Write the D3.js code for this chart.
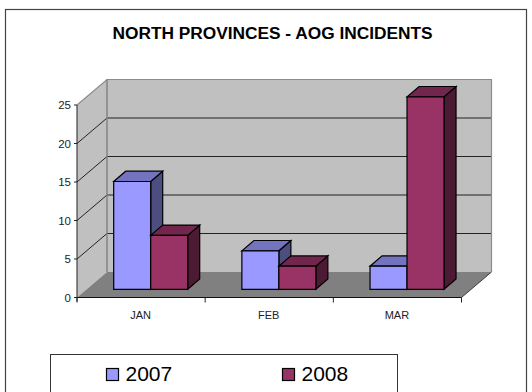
<!DOCTYPE html>
<html><head><meta charset="utf-8">
<script src="https://cdn.jsdelivr.net/npm/d3@7"></script>
<style>html,body{margin:0;padding:0;background:#fff;overflow:hidden}svg{display:block}text{font-family:"Liberation Sans",Arial,sans-serif}</style>
</head><body><svg id="c" width="532" height="392"></svg>
<script>
const categories = ["JAN","FEB","MAR"];
const seriesNames = ["2007","2008"];
const values2007 = [14,5,3];
const values2008 = [7,3,25];
const yTicks = [0,5,10,15,20,25];
const titleText = "NORTH PROVINCES - AOG INCIDENTS";
const colors = {"2007":{front:"#9999ff",top:"#7373bf",side:"#4d4d80"},"2008":{front:"#993366",top:"#73264d",side:"#4d1a33"}};

const svg = d3.select("#c");
// frame
svg.append("rect").attr("x",5.5).attr("y",9.5).attr("width",521).attr("height",400).attr("fill","#fff").attr("stroke","#444").attr("stroke-width",1.2);
svg.append("text").attr("x",272.5).attr("y",39).attr("text-anchor","middle").attr("font-size",16).attr("font-weight","bold").attr("textLength",320).attr("lengthAdjust","spacingAndGlyphs").attr("fill","#000").text(titleText);

const x0=77, x1=461.5, yBase=297.5, yTop=105;
const wallDx=30, wallDy=25.5;
const x = d3.scaleBand().domain(categories).range([x0,x1]).paddingInner(0).paddingOuter(0);
const y = d3.scaleLinear().domain([0,25]).range([yBase,yTop]);
const line = d3.line();
const poly = (pts,f,s,w)=>svg.append("path").attr("d",line(pts)+"Z").attr("fill",f).attr("stroke",s||"none").attr("stroke-width",w||0).attr("stroke-linejoin","miter");

poly([[x0,yBase],[x0+wallDx,yBase-wallDy],[x0+wallDx,yTop-wallDy],[x0,yTop]],"#c0c0c0");
poly([[x0+wallDx,yBase-wallDy],[x1+wallDx,yBase-wallDy],[x1+wallDx,yTop-wallDy],[x0+wallDx,yTop-wallDy]],"#c0c0c0");
poly([[x0,yBase],[x1,yBase],[x1+wallDx,yBase-wallDy],[x0+wallDx,yBase-wallDy]],"#808080");
// gridlines
yTicks.filter(t=>t>0&&t<25).forEach(t=>{
  svg.append("path").attr("d",line([[x0,y(t)],[x0+wallDx,y(t)-wallDy],[x1+wallDx,y(t)-wallDy]])).attr("fill","none").attr("stroke","#111").attr("stroke-width",0.9);
});
// wall edges
svg.append("path").attr("d",line([[x0,yTop],[x0+wallDx,yTop-wallDy],[x1+wallDx,yTop-wallDy],[x1+wallDx,yBase-wallDy]])).attr("fill","none").attr("stroke","#8c8c8c").attr("stroke-width",1.2);
svg.append("line").attr("x1",x0+wallDx).attr("x2",x0+wallDx).attr("y1",yTop-wallDy).attr("y2",yBase-wallDy).attr("stroke","#808080").attr("stroke-width",1.4);
// axes
svg.append("line").attr("x1",x0).attr("x2",x0).attr("y1",yTop).attr("y2",yBase+4).attr("stroke","#222");
svg.append("line").attr("x1",x0).attr("x2",x1).attr("y1",yBase).attr("y2",yBase).attr("stroke","#111");
svg.append("path").attr("d",line([[x1,yBase],[x1+wallDx,yBase-wallDy]])).attr("fill","none").attr("stroke","#222").attr("stroke-width",.8);
yTicks.forEach(t=>{
  svg.append("line").attr("x1",x0-3).attr("x2",x0).attr("y1",y(t)).attr("y2",y(t)).attr("stroke","#222");
  svg.append("text").attr("x",x0-6).attr("y",y(t)+4).attr("text-anchor","end").attr("font-size",11.5).attr("fill","#222").text(t);
});
[...categories.map(c=>x(c)),x1].forEach(v=>{
  svg.append("line").attr("x1",v).attr("x2",v).attr("y1",yBase).attr("y2",yBase+5).attr("stroke","#222");
});
categories.forEach(c=>{
  svg.append("text").attr("x",x(c)+x.bandwidth()/2-0.5).attr("y",319).attr("text-anchor","middle").attr("font-size",11).attr("fill","#222").text(c);
});
// bars
const barW=37, gapX=27, offX=9.7, offY=8.2, depthX=12, depthY=10.3;
const data=[];
categories.forEach((c,i)=>{
  data.push({c,s:"2007",k:0,v:values2007[i]});
  data.push({c,s:"2008",k:1,v:values2008[i]});
});
data.forEach(d=>{
  const l=x(d.c)+gapX+offX+d.k*barW, r=l+barW;
  const b=y(0)-offY, t=y(d.v)-offY;
  const col=colors[d.s];
  poly([[r,b],[r+depthX,b-depthY],[r+depthX,t-depthY],[r,t]],col.side,"#000",1.2);
  poly([[l,t],[r,t],[r+depthX,t-depthY],[l+depthX,t-depthY]],col.top,"#000",1.2);
  poly([[l,b],[r,b],[r,t],[l,t]],col.front,"#000",1.2);
});
// legend
svg.append("rect").attr("x",50.5).attr("y",354.5).attr("width",347).attr("height",50).attr("fill","#fff").attr("stroke","#333");
const legendX={"2007":106.5,"2008":282.5};
seriesNames.forEach(s=>{
  svg.append("rect").attr("x",legendX[s]).attr("y",368.5).attr("width",12).attr("height",12).attr("fill",colors[s].front).attr("stroke","#000").attr("stroke-width",1.2);
  svg.append("text").attr("x",legendX[s]+19).attr("y",380.5).attr("font-size",21).attr("fill","#000").text(s);
});
</script></body></html>
